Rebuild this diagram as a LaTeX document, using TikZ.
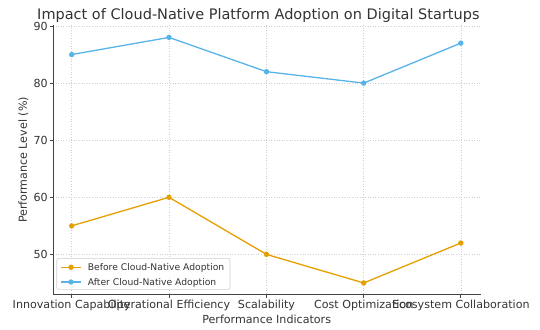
\documentclass[tikz,border=0pt]{standalone}
\usepackage{fontspec}
\setmainfont{DejaVu Sans}
\definecolor{cblue}{HTML}{56B4E9}
\definecolor{corange}{HTML}{E69F00}
\definecolor{txt}{HTML}{333333}
\definecolor{spine}{HTML}{444444}
\definecolor{gridc}{HTML}{CFCFCF}
\begin{document}
\begin{tikzpicture}[x=1pt,y=-1pt,
  ticklab/.style={text=txt,font=\fontsize{11.1}{13}\selectfont,inner sep=0pt},
  leglab/.style={text=txt,font=\fontsize{9.2}{11}\selectfont,inner sep=0pt,anchor=base west},
  gridline/.style={draw=gridc,line width=0.6pt,dotted},
  spineline/.style={draw=spine,line width=0.9pt},
  serie/.style={line width=1.3pt,line join=round},
  mk/.style={circle,inner sep=0pt,minimum size=5.4pt}]
\useasboundingbox (0,0) rectangle (540,329);
% grid
\foreach \x in {71.7,169,266.5,363.7,460.8}
  \draw[gridline] (\x,25) -- (\x,294);
\foreach \v in {50,60,70,80,90}
  \draw[gridline] (53,{26+(90-\v)*5.71}) -- (481,{26+(90-\v)*5.71});
% spines
\draw[spineline] (53,25) -- (53,294.3) -- (481,294.3);
% y ticks
\foreach \v in {50,60,70,80,90}{
  \draw[spineline] (49.5,{26+(90-\v)*5.71}) -- (53,{26+(90-\v)*5.71});
  \node[ticklab,anchor=base east] (yt\v) at (48,{26+(90-\v)*5.71+4.05}) {\v};
}
% x ticks
\foreach \x/\n/\t in {71.7/1/Innovation Capability,169/2/Operational Efficiency,266.5/3/Scalability,363.7/4/Cost Optimization,460.8/5/Ecosystem Collaboration}{
  \draw[spineline] (\x,294.3) -- (\x,297.8);
  \node[ticklab,anchor=base] (xt\n) at (\x,308) {\t};
}
% axis labels
\node[ticklab,anchor=base] (xlab) at (266.7,323.3) {Performance Indicators};
\node[ticklab,rotate=90,anchor=center] (ylab) at (23.5,160) {Performance Level (\%)};
% title
\node[text=txt,font=\fontsize{14.5}{17}\selectfont,inner sep=0pt,anchor=base] (title) at (258.4,20) {Impact of Cloud-Native Platform Adoption on Digital Startups};
% data
\foreach \x/\n/\b/\a in {71.7/1/55/85,169/2/60/88,266.5/3/50/82,363.7/4/45/80,460.8/5/52/87}{
  \coordinate (b\n) at (\x,{26+(90-\b)*5.71});
  \coordinate (a\n) at (\x,{26+(90-\a)*5.71});
}
\draw[serie,corange] (b1) -- (b2) -- (b3) -- (b4) -- (b5);
\draw[serie,cblue] (a1) -- (a2) -- (a3) -- (a4) -- (a5);
\foreach \n in {1,...,5}{
  \node[mk,fill=corange] (mb\n) at (b\n) {};
  \node[mk,fill=cblue] (ma\n) at (a\n) {};
}
% legend
\draw[draw=gridc,fill=white,fill opacity=0.8,rounded corners=2pt,line width=0.6pt] (56.7,258.3) rectangle (230,289.3);
\coordinate (l1s) at (61,267.3); \coordinate (l1e) at (81,267.3);
\coordinate (l2s) at (61,282); \coordinate (l2e) at (81,282);
\draw[serie,corange] (l1s) -- (l1e);
\draw[serie,cblue] (l2s) -- (l2e);
\node[mk,fill=corange] (lm1) at (71,267.3) {};
\node[mk,fill=cblue] (lm2) at (71,282) {};
\node[leglab] (lt1) at (87.7,270.7) {Before Cloud-Native Adoption};
\node[leglab] (lt2) at (87.7,285.4) {After Cloud-Native Adoption};
\end{tikzpicture}
\end{document}
